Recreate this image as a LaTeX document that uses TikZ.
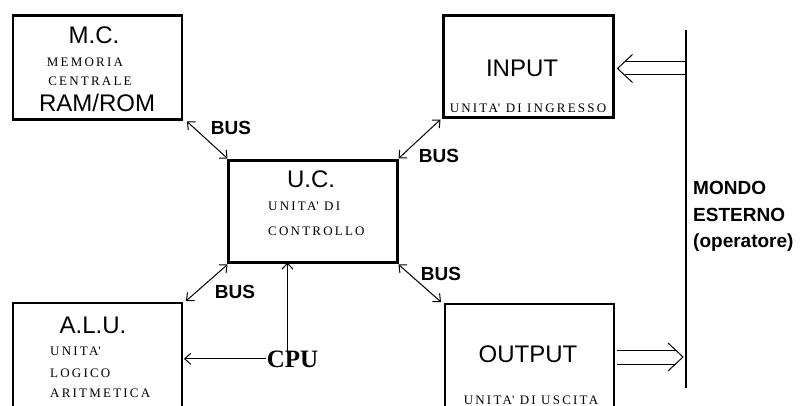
\documentclass[tikz,border=0pt]{standalone}
\usepackage{fontspec}
\setmainfont{Liberation Serif}
\newfontfamily\sansfont{Liberation Sans}
\newfontfamily\spacedfont[LetterSpace=17]{Liberation Serif}
\usetikzlibrary{arrows.meta,calc}

\begin{document}
\begin{tikzpicture}[x=1pt,y=-1pt,
  unit/.style={draw, line width=2.6pt, inner sep=0pt, outer sep=0pt},
  title/.style={anchor=base, inner sep=0pt, font=\sansfont\fontsize{24}{24}\selectfont},
  caption/.style={anchor=base, inner sep=0pt, font=\spacedfont\fontsize{13}{13}\selectfont},
  buslabel/.style={anchor=base, inner sep=0pt, font=\sansfont\bfseries\fontsize{19}{19}\selectfont},
  tip/.tip={Straight Barb[length=6pt,width=11pt]},
  link/.style={line width=1pt, tip-tip},
  feed/.style={line width=1pt, -tip},
  wide/.style={line width=1pt},
]
\useasboundingbox (0,0) rectangle (802,406);
\clip (0,0) rectangle (802,406);
\fill[white] (0,0) rectangle (802,406);

% functional units
\node[unit, minimum width=169pt, minimum height=104pt] (mc)    at (97.5,67.5) {};
\node[unit, minimum width=170pt, minimum height=102pt] (input) at (528.5,66.5) {};
\node[unit, minimum width=169pt, minimum height=102pt] (uc)    at (313,211.5) {};
\node[unit, minimum width=169pt, minimum height=154pt] (alu)   at (97.5,380) {};
\node[unit, minimum width=169pt, minimum height=154pt] (out)   at (529.5,381) {};

% unit texts
\node[title]   (mct)  at (94,44)   {M.C.};
\node[caption] (mc1)  at (85,67)   {MEMORIA};
\node[caption] (mc2)  at (90,86)   {CENTRALE};
\node[title]   (mc3)  at (97,112)  {RAM/ROM};

\node[title]   (int)  at (522,77)  {INPUT};
\node[caption] (in1)  at (528,113) {UNITA\textquotesingle{} DI INGRESSO};

\node[title]   (uct)  at (311,187) {U.C.};
\node[caption, anchor=base west] (uc1) at (268,210) {UNITA\textquotesingle{} DI};
\node[caption, anchor=base west] (uc2) at (268,235) {CONTROLLO};

\node[title]   (alut) at (93,333)  {A.L.U.};
\node[caption, anchor=base west] (alu1) at (50,355) {UNITA\textquotesingle};
\node[caption, anchor=base west] (alu2) at (50,377) {LOGICO};
\node[caption, anchor=base west] (alu3) at (50,397) {ARITMETICA};

\node[title]   (outt) at (528,362) {OUTPUT};
\node[caption] (out1) at (531,404) {UNITA\textquotesingle{} DI USCITA};

\node[anchor=base, inner sep=0pt, font=\bfseries\fontsize{25}{25}\selectfont] (cpu) at (292.5,367) {CPU};

% bus connections
\draw[link] ([shift={(5,2)}]mc.south east) -- ([shift={(-1,-2)}]uc.north west);
\draw[link] ([shift={(-3,2)}]input.south west) -- ([shift={(1,-2)}]uc.north east);
\draw[link] ([shift={(-1,2)}]uc.south west) -- ([shift={(4,-2)}]alu.north east);
\draw[link] ([shift={(1,2)}]uc.south east) -- ([shift={(-4,-2)}]out.north west);

\node[buslabel] (bus1) at (231,135) {BUS};
\node[buslabel] (bus2) at (439,163) {BUS};
\node[buslabel] (bus3) at (235,298) {BUS};
\node[buslabel] (bus4) at (441,280) {BUS};

% CPU links
\coordinate (cpuup) at ([xshift=-5pt]cpu.north);
\draw[feed] ([yshift=-3pt]cpuup) -- (cpuup |- uc.south);
\draw[feed] ([xshift=-1pt]cpu.west) -- ([xshift=2pt]cpu.west -| alu.east);

% outside world
\coordinate (wtop) at (686,30);
\coordinate (wbot) at (686,388);
\draw[line width=2pt] (wtop) -- (wbot);

\node[buslabel, anchor=base west] (w1) at (693,194) {MONDO};
\node[buslabel, anchor=base west] (w2) at (693,221) {ESTERNO};
\node[buslabel, anchor=base west] (w3) at (693,247) {(operatore)};

% input flow
\coordinate (inTip) at ($(input.east)+(4,2)$);
\coordinate (inA) at ([shift={(7,-6.5)}]inTip);
\coordinate (inB) at ([shift={(7,6.5)}]inTip);
\draw[wide] ([shift={(15,-14)}]inTip) -- (inTip) -- ([shift={(15,14)}]inTip);
\draw[wide] (inA) -- (inA -| wtop);
\draw[wide] (inB) -- (inB -| wtop);

% output flow
\coordinate (outTip) at (683,357);
\coordinate (outA) at ([shift={(-7,-7)}]outTip);
\coordinate (outB) at ([shift={(-7,7)}]outTip);
\draw[wide] ([shift={(-15,-14)}]outTip) -- (outTip) -- ([shift={(-15,14)}]outTip);
\draw[wide, shorten >=3pt] (outA) -- (outA -| out.east);
\draw[wide, shorten >=3pt] (outB) -- (outB -| out.east);
\end{tikzpicture}
\end{document}
